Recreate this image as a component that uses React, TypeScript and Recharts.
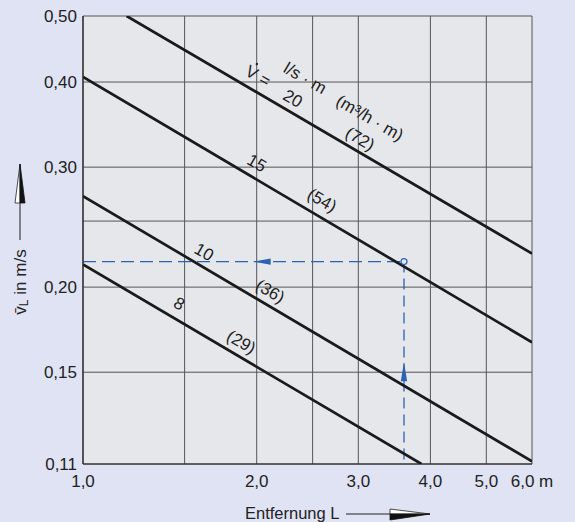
import { LineChart, Line, XAxis, YAxis, CartesianGrid, ReferenceDot } from 'recharts';

const FONT = '"Liberation Sans", Arial, Helvetica, sans-serif';
const BLUE = '#2b62b3';
const PLOT_BG = '#e6e7eb';
const PAGE_BG = '#dfe3f3';

// Entfernung L (m) / mittlere Luftgeschwindigkeit v (m/s)
const xTicks = [1, 1.5, 2, 2.5, 3, 4, 5, 6];
const xTickLabels = ['1,0', '', '2,0', '', '3,0', '4,0', '5,0', '6,0 m'];
const yTicks = [0.11, 0.15, 0.2, 0.25, 0.3, 0.4, 0.5];
const yTickLabels = ['0,11', '0,15', '0,20', '', '0,30', '0,40', '0,50'];

const line20 = [
  { L: 1.19, v: 0.5 },
  { L: 6.0, v: 0.224 },
];
const line15 = [
  { L: 1.0, v: 0.407 },
  { L: 6.0, v: 0.166 },
];
const line10 = [
  { L: 1.0, v: 0.272 },
  { L: 6.0, v: 0.111 },
];
const line8 = [
  { L: 1.0, v: 0.216 },
  { L: 3.86, v: 0.11 },
];

// example reading (blue dashed)
const readHoriz = [
  { L: 1.0, v: 0.218 },
  { L: 3.6, v: 0.218 },
];
const readVert = [
  { L: 3.6, v: 0.218 },
  { L: 3.6, v: 0.11 },
];
const readPoint = { L: 3.6, v: 0.218 };
const readArrows = [
  { L: 2.04, v: 0.218, dir: 'left' },
  { L: 3.6, v: 0.15, dir: 'up' },
];

// curve labels
const curveLabels = [
  { L: 2.01, v: 0.408, text: 'V =' },
  { L: 2.425, v: 0.405, text: 'l/s \u00b7 m' },
  { L: 2.31, v: 0.378, text: '20' },
  { L: 3.14, v: 0.354, text: '(m\u00b3/h \u00b7 m)' },
  { L: 3.02, v: 0.33, text: '(72)' },
  { L: 2.0, v: 0.304, text: '15' },
  { L: 2.595, v: 0.268, text: '(54)' },
  { L: 1.62, v: 0.225, text: '10' },
  { L: 2.11, v: 0.197, text: '(36)' },
  { L: 1.467, v: 0.189, text: '8' },
  { L: 1.88, v: 0.166, text: '(29)' },
];

function XTick(props: any) {
  const { x, y, payload } = props;
  const label = xTickLabels[xTicks.indexOf(payload.value)];
  if (!label) return <g />;
  return (
    <text x={x} y={y} dy="0.71em" textAnchor="middle" fontSize={17} fill="#222" fontFamily={FONT}>
      {label}
    </text>
  );
}

function YTick(props: any) {
  const { x, y, payload } = props;
  const label = yTickLabels[yTicks.indexOf(payload.value)];
  if (!label) return <g />;
  return (
    <text x={x} y={y} dy="0.36em" textAnchor="end" fontSize={17} fill="#222" fontFamily={FONT}>
      {label}
    </text>
  );
}

function CurveLabel({ cx, cy, text }: any) {
  return (
    <g transform={`rotate(30 ${cx} ${cy})`}>
      <text
        x={cx}
        y={cy}
        textAnchor="middle"
        dominantBaseline="central"
        fontSize={17}
        fill="#1e1e1e"
        fontFamily={FONT}
      >
        {text}
      </text>
      {/* flow-rate dot over the V */}
      {text === 'V =' && <circle cx={cx - 7} cy={cy - 10} r={1.2} fill="#1e1e1e" />}
    </g>
  );
}

function Arrow({ cx, cy, dir }: any) {
  const d =
    dir === 'left'
      ? `M${cx - 9},${cy} L${cx + 9},${cy - 3.2} L${cx + 9},${cy + 3.2} Z`
      : `M${cx},${cy - 10} L${cx - 3.2},${cy + 9} L${cx + 3.2},${cy + 9} Z`;
  return <path d={d} fill={BLUE} />;
}

function AxisTitles() {
  return (
    <svg
      width={575}
      height={522}
      style={{ position: 'absolute', left: 0, top: 0, pointerEvents: 'none' }}
      fontFamily={FONT}
    >
      <text
        transform="translate(20,282) rotate(-90)"
        textAnchor="middle"
        dominantBaseline="central"
        fontSize={17}
        fill="#222"
      >
        v{'\u0304'}
        <tspan fontSize={12} dy={4}>L</tspan>
        <tspan dy={-4}> in m/s</tspan>
      </text>
      <line x1={20} y1={240} x2={20} y2={203} stroke="#222" strokeWidth={1} />
      <path d="M20,164 L15,203 L20,203 Z" fill="#fff" stroke="#222" strokeWidth={0.8} />
      <path d="M20,164 L25,203 L20,203 Z" fill="#111" stroke="#111" strokeWidth={0.8} />

      <text x={245} y={519} fontSize={16.5} fill="#222">
        Entfernung L
      </text>
      <line x1={346} y1={514} x2={390} y2={514} stroke="#222" strokeWidth={1} />
      <path d="M430,514 L390,509 L390,514 Z" fill="#fff" stroke="#222" strokeWidth={0.8} />
      <path d="M430,514 L390,520 L390,514 Z" fill="#111" stroke="#111" strokeWidth={0.8} />
    </svg>
  );
}

export default function App() {
  return (
    <div style={{ position: 'absolute', left: 0, top: 0, width: 575, height: 522, background: PAGE_BG }}>
      <LineChart width={575} height={522} margin={{ top: 16, right: 43, bottom: 0, left: 0 }}>
        <CartesianGrid stroke="#555" strokeWidth={1} fill={PLOT_BG} />
        <XAxis
          dataKey="L"
          type="number"
          scale="log"
          domain={[1, 6]}
          allowDataOverflow
          ticks={xTicks}
          interval={0}
          height={58}
          tickSize={0}
          tickMargin={11}
          tick={<XTick />}
          axisLine={{ stroke: '#222', strokeWidth: 1.2 }}
        />
        <YAxis
          dataKey="v"
          type="number"
          scale="log"
          domain={[0.11, 0.5]}
          allowDataOverflow
          ticks={yTicks}
          interval={0}
          width={83}
          tickSize={0}
          tickMargin={6}
          tick={<YTick />}
          axisLine={{ stroke: '#222', strokeWidth: 1.2 }}
        />
        <Line data={readHoriz} dataKey="v" stroke={BLUE} strokeWidth={1.3} strokeDasharray="13 6" dot={false} activeDot={false} isAnimationActive={false} />
        <Line data={readVert} dataKey="v" stroke={BLUE} strokeWidth={1.3} strokeDasharray="11 6" dot={false} activeDot={false} isAnimationActive={false} />
        <Line data={line20} dataKey="v" stroke="#1a1a1a" strokeWidth={2.7} dot={false} activeDot={false} isAnimationActive={false} />
        <Line data={line15} dataKey="v" stroke="#1a1a1a" strokeWidth={2.7} dot={false} activeDot={false} isAnimationActive={false} />
        <Line data={line10} dataKey="v" stroke="#1a1a1a" strokeWidth={2.7} dot={false} activeDot={false} isAnimationActive={false} />
        <Line data={line8} dataKey="v" stroke="#1a1a1a" strokeWidth={2.7} dot={false} activeDot={false} isAnimationActive={false} />
        {readArrows.map((a) => (
          <ReferenceDot key={a.dir} x={a.L} y={a.v} r={0} shape={(p: any) => <Arrow {...p} dir={a.dir} />} />
        ))}
        <ReferenceDot x={readPoint.L} y={readPoint.v} r={3} fill={PLOT_BG} stroke={BLUE} strokeWidth={1.2} />
        {curveLabels.map((c) => (
          <ReferenceDot key={c.text} x={c.L} y={c.v} r={0} shape={(p: any) => <CurveLabel {...p} text={c.text} />} />
        ))}
      </LineChart>
      <AxisTitles />
    </div>
  );
}
